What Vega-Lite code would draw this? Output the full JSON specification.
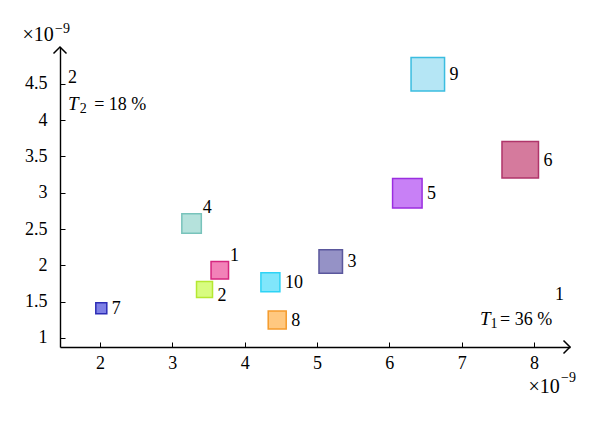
{
  "$schema": "https://vega.github.io/schema/vega-lite/v6.json",
  "width": 510,
  "height": 300,
  "autosize": {"type": "none"},
  "padding": {"left": 60, "top": 47, "right": 30, "bottom": 82},
  "background": "white",
  "config": {
    "view": {"stroke": null},
    "font": "Liberation Serif",
    "axis": {
      "grid": false,
      "domainColor": "black",
      "domainWidth": 1.4,
      "tickColor": "black",
      "tickWidth": 1,
      "tickSize": -5,
      "labelFont": "Liberation Serif",
      "labelFontSize": 18,
      "labelColor": "black",
      "titleFont": "Liberation Serif",
      "titleFontSize": 20,
      "titleFontWeight": "normal",
      "titleColor": "black"
    }
  },
  "datasets": {
    "pts": [
      {"id": "1", "x": 3.656, "y": 1.932, "m": 17.5},
      {"id": "2", "x": 3.445, "y": 1.668, "m": 16},
      {"id": "3", "x": 5.19, "y": 2.054, "m": 23.5},
      {"id": "4", "x": 3.266, "y": 2.577, "m": 19.5},
      {"id": "5", "x": 6.249, "y": 2.993, "m": 29.5},
      {"id": "6", "x": 7.81, "y": 3.455, "m": 36.5},
      {"id": "7", "x": 2.018, "y": 1.41, "m": 11},
      {"id": "8", "x": 4.45, "y": 1.248, "m": 18},
      {"id": "9", "x": 6.532, "y": 4.634, "m": 33.5},
      {"id": "10", "x": 4.356, "y": 1.767, "m": 19}
    ],
    "notes": [
      {"kind": "normal", "x": 1.558, "y": 4.512, "t": "2"},
      {"kind": "italic", "x": 1.558, "y": 4.14, "t": "T"},
      {"kind": "sub", "x": 1.72, "y": 4.099, "t": "2"},
      {"kind": "normal", "x": 1.92, "y": 4.14, "t": "= 18 %"},
      {"kind": "normal", "x": 8.291, "y": 1.523, "t": "1"},
      {"kind": "italic", "x": 7.254, "y": 1.179, "t": "T"},
      {"kind": "sub", "x": 7.4, "y": 1.138, "t": "1"},
      {"kind": "normal", "x": 7.53, "y": 1.179, "t": "= 36 %"},
      {"kind": "sup", "x": 1.378, "y": 5.201, "t": "−9"},
      {"kind": "sup", "x": 8.374, "y": 0.394, "t": "−9"}
    ],
    "arrows": [
      {"dir": "right", "x": 8.498, "y": 0.876},
      {"dir": "up", "x": 1.447, "y": 5.008}
    ]
  },
  "layer": [
    {
      "data": {"name": "pts"},
      "mark": {"type": "point", "shape": "square", "filled": true, "opacity": 1, "strokeWidth": 1.5},
      "encoding": {
        "x": {
          "field": "x", "type": "quantitative",
          "scale": {"domain": [1.447, 8.498], "nice": false, "zero": false},
          "axis": {
            "values": [2, 3, 4, 5, 6, 7, 8],
            "format": "~g",
            "labelPadding": 12,
            "title": "×10",
            "titleAngle": 0,
            "titleAlign": "left",
            "titleBaseline": "alphabetic",
            "titleX": 468,
            "titleY": 45
          }
        },
        "y": {
          "field": "y", "type": "quantitative",
          "scale": {"domain": [0.876, 5.008], "nice": false, "zero": false},
          "axis": {
            "values": [1, 1.5, 2, 2.5, 3, 3.5, 4, 4.5],
            "format": "~g",
            "labelPadding": 18,
            "title": "×10",
            "titleAngle": 0,
            "titleAlign": "left",
            "titleBaseline": "alphabetic",
            "titleX": -38,
            "titleY": -7
          }
        },
        "size": {
          "field": "m", "type": "quantitative",
          "scale": {"type": "pow", "exponent": 2, "domain": [0, 40], "range": [0, 1600]},
          "legend": null
        },
        "fill": {
          "field": "id", "type": "nominal",
          "scale": {
            "domain": ["1", "2", "3", "4", "5", "6", "7", "8", "9", "10"],
            "range": ["#f282b8", "#d8fc80", "#9592c6", "#b5e2dc", "#c880f6", "#d57a9d", "#7e80e6", "#ffc880", "#b5e6f5", "#80e6fb"]
          },
          "legend": null
        },
        "stroke": {
          "field": "id", "type": "nominal",
          "scale": {
            "domain": ["1", "2", "3", "4", "5", "6", "7", "8", "9", "10"],
            "range": ["#d6267f", "#b5e832", "#5a579c", "#78c3bb", "#9a2ee0", "#b0356a", "#2d2db5", "#f59b2c", "#3bbde0", "#2ed3f5"]
          },
          "legend": null
        }
      }
    },
    {
      "data": {"name": "pts"},
      "transform": [{"filter": "datum.id != '1' && datum.id != '2' && datum.id != '4'"}],
      "mark": {"type": "text", "align": "left", "baseline": "middle", "fontSize": 18, "font": "Liberation Serif", "color": "black", "dx": {"expr": "datum.m/2 + 5"}, "dy": 1},
      "encoding": {
        "x": {"field": "x", "type": "quantitative"},
        "y": {"field": "y", "type": "quantitative"},
        "text": {"field": "id"}
      }
    },
    {
      "data": {"name": "pts"},
      "transform": [{"filter": "datum.id == '1' || datum.id == '4'"}],
      "mark": {"type": "text", "align": "left", "baseline": "middle", "fontSize": 18, "font": "Liberation Serif", "color": "black", "dx": {"expr": "datum.m/2 + 1.5"}, "dy": {"expr": "-(datum.m/2 + 6)"}},
      "encoding": {
        "x": {"field": "x", "type": "quantitative"},
        "y": {"field": "y", "type": "quantitative"},
        "text": {"field": "id"}
      }
    },
    {
      "data": {"name": "pts"},
      "transform": [{"filter": "datum.id == '2'"}],
      "mark": {"type": "text", "align": "left", "baseline": "middle", "fontSize": 18, "font": "Liberation Serif", "color": "black", "dx": 13, "dy": 7},
      "encoding": {
        "x": {"field": "x", "type": "quantitative"},
        "y": {"field": "y", "type": "quantitative"},
        "text": {"field": "id"}
      }
    },
    {
      "data": {"name": "notes"},
      "transform": [{"filter": "datum.kind == 'normal'"}],
      "mark": {"type": "text", "align": "left", "baseline": "alphabetic", "fontSize": 18, "font": "Liberation Serif", "color": "black"},
      "encoding": {
        "x": {"field": "x", "type": "quantitative"},
        "y": {"field": "y", "type": "quantitative"},
        "text": {"field": "t"}
      }
    },
    {
      "data": {"name": "notes"},
      "transform": [{"filter": "datum.kind == 'italic'"}],
      "mark": {"type": "text", "align": "left", "baseline": "alphabetic", "fontSize": 19, "fontStyle": "italic", "font": "Liberation Serif", "color": "black"},
      "encoding": {
        "x": {"field": "x", "type": "quantitative"},
        "y": {"field": "y", "type": "quantitative"},
        "text": {"field": "t"}
      }
    },
    {
      "data": {"name": "notes"},
      "transform": [{"filter": "datum.kind == 'sub' || datum.kind == 'sup'"}],
      "mark": {"type": "text", "align": "left", "baseline": "alphabetic", "fontSize": 14, "font": "Liberation Serif", "color": "black"},
      "encoding": {
        "x": {"field": "x", "type": "quantitative"},
        "y": {"field": "y", "type": "quantitative"},
        "text": {"field": "t"}
      }
    },
    {
      "data": {"name": "arrows"},
      "transform": [{"filter": "datum.dir == 'right'"}],
      "mark": {"type": "point", "shape": "M-1,-1L0,0L-1,1", "filled": false, "stroke": "black", "strokeWidth": 1.5, "size": 169, "opacity": 1},
      "encoding": {
        "x": {"field": "x", "type": "quantitative"},
        "y": {"field": "y", "type": "quantitative"}
      }
    },
    {
      "data": {"name": "arrows"},
      "transform": [{"filter": "datum.dir == 'up'"}],
      "mark": {"type": "point", "shape": "M-1,1L0,0L1,1", "filled": false, "stroke": "black", "strokeWidth": 1.5, "size": 169, "opacity": 1},
      "encoding": {
        "x": {"field": "x", "type": "quantitative"},
        "y": {"field": "y", "type": "quantitative"}
      }
    }
  ]
}
